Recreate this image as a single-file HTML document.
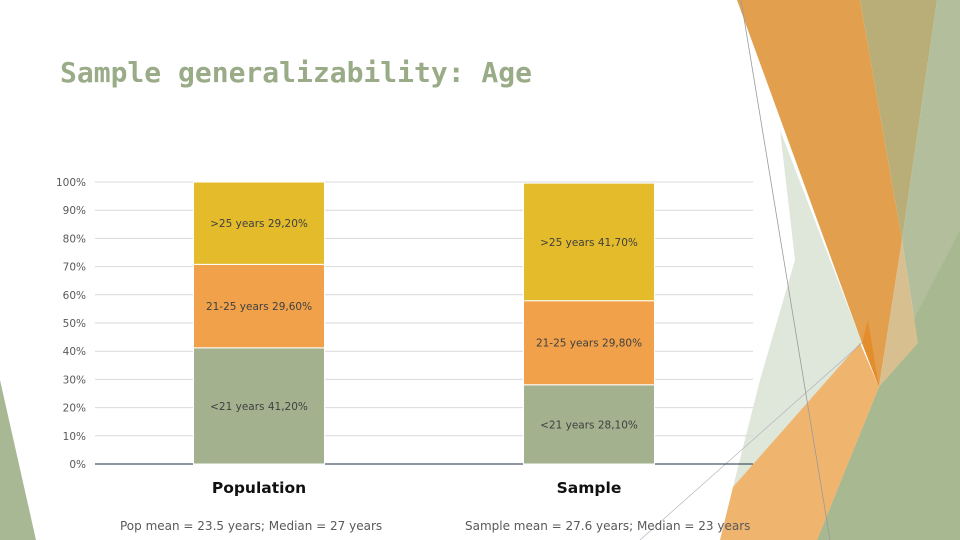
<!DOCTYPE html>
<html><head><meta charset="utf-8"><style>
html,body{margin:0;padding:0;background:#fff}
#root{position:relative;width:960px;height:540px;overflow:hidden;font-family:"DejaVu Sans","Liberation Sans",sans-serif}
.t{position:absolute;white-space:nowrap}
</style></head><body>
<div id="root">
<svg width="960" height="540" style="position:absolute;left:0;top:0">
  <polygon points="0,380 36,540 0,540" fill="#a9b894"/>
  <polygon points="780,130 862,343 733,487 760,380 795,260" fill="#dfe6da"/>
  <polygon points="737,0 860,0 902,240 879,387 862,343" fill="#e2a04e"/>
  <polygon points="860,0 937,0 902,240" fill="#b9ad78"/>
  <polygon points="937,0 960,0 960,540 817,540 879,387 918,343 902,240" fill="#b3bf9c"/>
  <polygon points="960,230 960,540 817,540 879,387" fill="#a8b891"/>
  <polygon points="902,240 918,343 879,387" fill="#d8bf8f"/>
  <polygon points="720,540 733,487 860,343 879,387 817,540" fill="#efb56e"/>
  <polygon points="862,343 879,387 868,320" fill="#e48d2d"/>
  <line x1="741" y1="0" x2="830" y2="540" stroke="#9a9a9a" stroke-width="0.8"/>
  <line x1="640" y1="540" x2="862" y2="343" stroke="#aab" stroke-width="0.6"/>
</svg>
<div class="t" style="left:60px;top:56px;font-family:'DejaVu Sans Mono','Liberation Mono',monospace;font-weight:bold;font-size:28px;color:#9aab87">Sample generalizability: Age</div>
<svg id="chart" width="960" height="540" style="position:absolute;left:0;top:0"></svg>
<div class="t" style="left:120px;top:519px;font-size:12px;color:#595959">Pop mean = 23.5 years; Median = 27 years</div>
<div class="t" style="left:465px;top:519px;font-size:12px;color:#595959">Sample mean = 27.6 years; Median = 23 years</div>
</div>
<script>
const categories=["Population","Sample"];
const seriesNames=["<21 years","21-25 years",">25 years"];
const under21=[41.2,28.1];
const age21to25=[29.6,29.8];
const over25=[29.2,41.7];
const ticks=[0,10,20,30,40,50,60,70,80,90,100];
const colors=["#a3b18f","#f0a14a","#e3bb2b"];
const NS="http://www.w3.org/2000/svg";
const svg=document.getElementById('chart');
const y0=464,y100=182;
const y=v=>y0-(y0-y100)*v/100;
const centers=[259,589];
const bw=131;
function mk(tag,attrs){const e=document.createElementNS(NS,tag);for(const k in attrs)e.setAttribute(k,attrs[k]);svg.appendChild(e);return e;}
ticks.forEach(t=>{
  const l=mk('line',{x1:95,x2:753,y1:y(t),y2:y(t),stroke:t===0?'#1f3044':'#d9d9d9','stroke-width':1});
  
  
  const tx=mk('text',{x:86,y:y(t)+4,'text-anchor':'end','font-size':10.5,fill:'#595959','font-family':'DejaVu Sans, Liberation Sans, sans-serif'});
  tx.textContent=t+'%';
  
  
});
const series=[under21,age21to25,over25];
categories.forEach((c,i)=>{
  let base=0;
  series.forEach((s,j)=>{
    const v=s[i];
    const r=mk('rect',{x:centers[i]-bw/2,y:y(base+v),width:bw,height:y(base)-y(base+v),fill:colors[j],stroke:'#fff','stroke-width':1});
    
    
    const lt=mk('text',{x:centers[i],y:(y(base)+y(base+v))/2+4,'text-anchor':'middle','font-size':10.5,fill:'#404040','font-family':'DejaVu Sans, Liberation Sans, sans-serif'});
    lt.textContent=seriesNames[j]+'  '+v.toFixed(2).replace('.',',')+'%';
    
    
    base+=v;
  });
  const ct=mk('text',{x:centers[i],y:493,'text-anchor':'middle','font-size':15.5,'font-weight':'bold',fill:'#111','font-family':'DejaVu Sans, Liberation Sans, sans-serif'});
  ct.textContent=c;
  
  
});
</script>
</body></html>
